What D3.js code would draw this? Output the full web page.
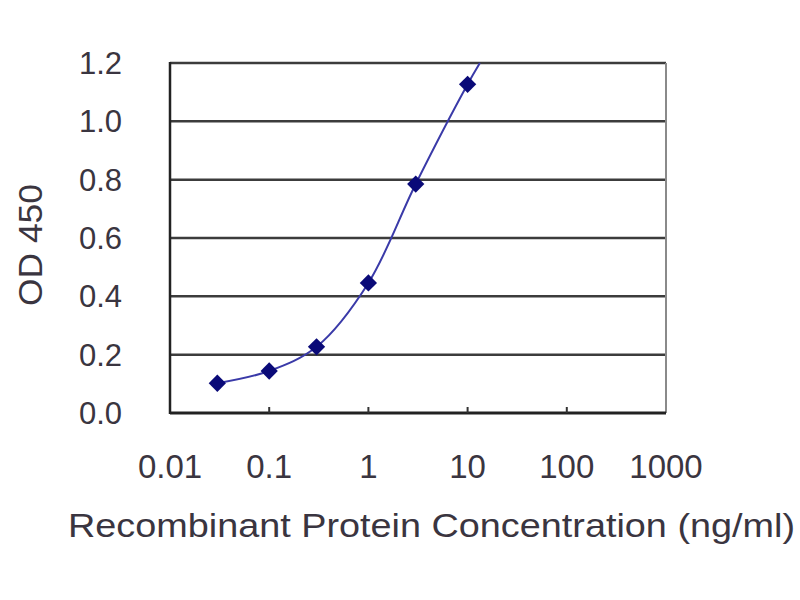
<!DOCTYPE html>
<html>
<head>
<meta charset="utf-8">
<script src="https://cdn.jsdelivr.net/npm/d3@7"></script>
<style>
  body { margin: 0; background: #fff; }
  text { font-family: "Liberation Sans", Arial, sans-serif; fill: #3a3540; }
</style>
</head>
<body>
<svg width="800" height="600"></svg>
<script>
const svg = d3.select('svg')

// concentrations (ng/ml) and measured OD 450
const conc = [0.03, 0.1, 0.3, 1, 3, 10]
const od = [0.102, 0.144, 0.227, 0.446, 0.785, 1.127]
// fitted curve runs past the last point up to the top of the plot
const tailConc = [13.3]
const tailOd = [1.2]

const xTicks = [0.01, 0.1, 1, 10, 100, 1000]
const xTickLabels = ['0.01', '0.1', '1', '10', '100', '1000']
const yTicks = [0, 0.2, 0.4, 0.6, 0.8, 1.0, 1.2]

const plotLeft = 170, plotRight = 666, plotTop = 63, plotBottom = 413

const x = d3.scaleLog().domain([0.01, 1000]).range([plotLeft, plotRight])
const y = d3.scaleLinear().domain([0, 1.2]).range([plotBottom, plotTop])

// horizontal gridlines
svg.append('g')
  .selectAll('line')
  .data(yTicks.filter(d => d > 0))
  .enter()
  .append('line')
  .attr('x1', plotLeft).attr('x2', plotRight)
  .attr('y1', d => y(d)).attr('y2', d => y(d))
  .attr('stroke', '#3c3c3c')
  .attr('stroke-width', 2.5)

// right border
svg.append('line')
  .attr('x1', plotRight).attr('x2', plotRight)
  .attr('y1', plotTop).attr('y2', plotBottom)
  .attr('stroke', '#8a8a8a')
  .attr('stroke-width', 2)

// axes
svg.append('line')
  .attr('x1', plotLeft).attr('x2', plotLeft)
  .attr('y1', plotTop - 1).attr('y2', plotBottom + 1)
  .attr('stroke', '#222')
  .attr('stroke-width', 2.5)
svg.append('line')
  .attr('x1', plotLeft).attr('x2', plotRight)
  .attr('y1', plotBottom).attr('y2', plotBottom)
  .attr('stroke', '#222')
  .attr('stroke-width', 3)

// x ticks pointing into the plot
svg.append('g')
  .selectAll('line')
  .data(xTicks.slice(1, -1))
  .enter()
  .append('line')
  .attr('x1', d => x(d)).attr('x2', d => x(d))
  .attr('y1', plotBottom).attr('y2', plotBottom - 6)
  .attr('stroke', '#333')
  .attr('stroke-width', 2)

// y tick labels
svg.append('g')
  .selectAll('text')
  .data(yTicks)
  .enter()
  .append('text')
  .attr('x', 122)
  .attr('y', d => y(d) + 11)
  .attr('text-anchor', 'end')
  .style('font-size', '31px')
  .text(d => d.toFixed(1))

// x tick labels
svg.append('g')
  .selectAll('text')
  .data(xTicks)
  .enter()
  .append('text')
  .attr('x', d => x(d))
  .attr('y', 478)
  .attr('text-anchor', 'middle')
  .style('font-size', '33px')
  .text((d, i) => xTickLabels[i])

// axis titles
svg.append('text')
  .attr('x', 68)
  .attr('y', 537)
  .attr('textLength', 727)
  .attr('lengthAdjust', 'spacingAndGlyphs')
  .style('font-size', '33px')
  .text('Recombinant Protein Concentration  (ng/ml)')

svg.append('text')
  .attr('transform', 'translate(42,245) rotate(-90)')
  .attr('text-anchor', 'middle')
  .attr('textLength', 122)
  .attr('lengthAdjust', 'spacingAndGlyphs')
  .style('font-size', '33px')
  .text('OD 450')

// curve
const pts = conc.map((c, i) => [c, od[i]])
  .concat(tailConc.map((c, i) => [c, tailOd[i]]))

const line = d3.line()
  .x(d => x(d[0]))
  .y(d => y(d[1]))
  .curve(d3.curveCatmullRom)

svg.append('path')
  .datum(pts)
  .attr('d', line)
  .attr('fill', 'none')
  .attr('stroke', '#3a3aa8')
  .attr('stroke-width', 2)

// diamond markers
svg.append('g')
  .selectAll('path')
  .data(conc)
  .enter()
  .append('path')
  .attr('d', d3.symbol().type(d3.symbolDiamond2).size(190))
  .attr('transform', (d, i) => `translate(${x(d)},${y(od[i])})`)
  .attr('fill', '#0a0a78')
</script>
</body>
</html>
